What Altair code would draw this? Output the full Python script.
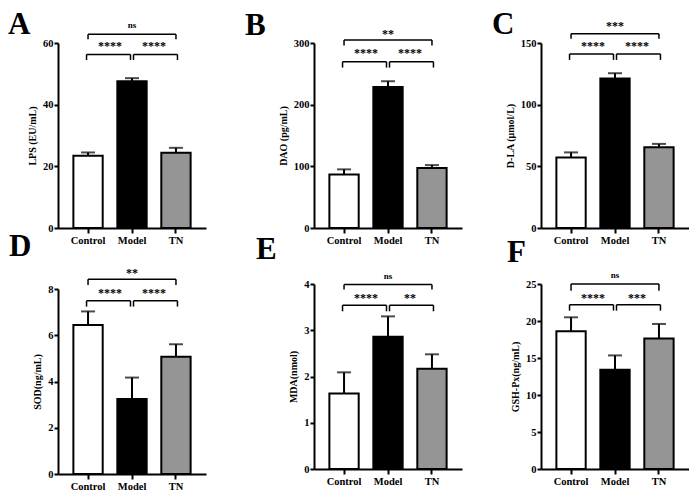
import altair as alt
import pandas as pd

GROUPS = ["Control", "Model", "TN"]
FILLS = ["white", "black", "#959595"]
FONT = "Liberation Serif"

# bar heights and one-sided error
LPS_MEAN = [23.4, 47.6, 24.4]
LPS_ERR = [1.1, 1.0, 1.6]
DAO_MEAN = [86.7, 228.6, 97.2]
DAO_ERR = [8.4, 9.4, 4.8]
DLA_MEAN = [57.1, 121.3, 65.5]
DLA_ERR = [4.2, 4.2, 2.7]
SOD_MEAN = [6.44, 3.24, 5.07]
SOD_ERR = [0.59, 0.93, 0.54]
MDA_MEAN = [1.63, 2.86, 2.17]
MDA_ERR = [0.46, 0.44, 0.31]
GSH_MEAN = [18.6, 13.4, 17.65]
GSH_ERR = [1.9, 1.95, 1.95]

# significance: Control-Model, Model-TN, Control-TN
SIG_A = ["****", "****", "ns"]
SIG_B = ["****", "****", "**"]
SIG_C = ["****", "****", "***"]
SIG_D = ["****", "****", "**"]
SIG_E = ["****", "**", "ns"]
SIG_F = ["****", "***", "ns"]

# bracket levels in data units: low line, low tick end, high line, high tick end, star y, top text y
LEV_A = [56.3, 54.5, 62.8, 61.25, 59.2, 66.0]
LEV_B = [269.6, 260.1, 304.8, 295.8, 285.3, 317.9]
LEV_C = [141.1, 136.3, 157.4, 153.4, 148.2, 165.3]
LEV_D = [7.49, 7.24, 8.42, 8.17, 7.86, 8.76]
LEV_E = [3.54, 3.41, 3.99, 3.88, 3.71, 4.17]
LEV_F = [22.2, 21.4, 25.0, 24.1, 23.3, 26.2]

TICKS_A = [0, 20, 40, 60]
TICKS_B = [0, 100, 200, 300]
TICKS_C = [0, 50, 100, 150]
TICKS_D = [0, 2, 4, 6, 8]
TICKS_E = [0, 1, 2, 3, 4]
TICKS_F = [0, 5, 10, 15, 20, 25]

W = 148
H = 185
P_IN = 1 / 3
P_OUT = 0.35
# stars sit halfway between two bar centres: a quarter bandwidth past the band end
STEP = W / (3 - P_IN + 2 * P_OUT)
STAR_DX = 0.25 * STEP * (1 - P_IN)


def panel(letter, means, errs, sig, lev, ticks, ytitle, ldx, ldy):
    df = pd.DataFrame({
        "group": GROUPS,
        "mean": means,
        "upper": [m + e for m, e in zip(means, errs)],
    })
    xscale = alt.Scale(domain=GROUPS, paddingInner=P_IN, paddingOuter=P_OUT)
    xaxis = alt.Axis(title=None, labelAngle=0, tickSize=5, labelPadding=2)
    yscale = alt.Scale(domain=[0, ticks[-1]], nice=False)
    # same axis spec on every layer so the merged axis keeps all tick values
    yaxis = alt.Axis(title=ytitle, values=ticks, tickSize=4, labelPadding=1,
                     titlePadding=5, labelOverlap=False)

    def X(field, **kw):
        return alt.X(field, scale=xscale, sort=GROUPS, axis=xaxis, **kw)

    def Y(field):
        return alt.Y(field, scale=yscale, axis=yaxis)

    bars = alt.Chart(df).mark_bar(stroke="black", strokeWidth=2).encode(
        x=X("group:N"), y=Y("mean:Q"),
        fill=alt.Fill("group:N", scale=alt.Scale(domain=GROUPS, range=FILLS), legend=None),
    )
    err = alt.Chart(df).mark_rule(strokeWidth=2, color="black").encode(
        x=X("group:N"), y=Y("mean:Q"), y2="upper:Q")
    cap = alt.Chart(df).mark_tick(size=14, thickness=2, color="black").encode(
        x=X("group:N"), y=Y("upper:Q"))

    lo, lo_t, hi, hi_t, star_y, top_y = lev
    left = pd.DataFrame({
        "a": ["Control", "Control", "Model"],
        "b": ["Model", "Control", "Model"],
        "y": [lo, lo_t, lo_t],
        "y2": [lo, lo, lo],
    })
    right = pd.DataFrame({
        "a": ["Model", "Model", "TN"],
        "b": ["TN", "Model", "TN"],
        "y": [lo, lo_t, lo_t],
        "y2": [lo, lo, lo],
    })
    top = pd.DataFrame({
        "a": ["Control", "Control", "TN"],
        "b": ["TN", "Control", "TN"],
        "y": [hi, hi_t, hi_t],
        "y2": [hi, hi, hi],
    })

    def bracket(d, off):
        return alt.Chart(d).mark_rule(
            strokeWidth=1.5, color="black", xOffset=off, x2Offset=off
        ).encode(
            x=X("a:N"), x2="b:N", y=Y("y:Q"), y2="y2:Q",
        )

    stars = pd.DataFrame({"a": ["Control", "Model"], "t": sig[:2], "y": [star_y, star_y]})
    toptext = pd.DataFrame({"a": ["Model"], "t": [sig[2]], "y": [top_y]})

    star_txt = alt.Chart(stars).mark_text(
        font=FONT, fontWeight="bold", fontSize=12, baseline="middle", color="black",
        dx=STAR_DX, dy=1,
    ).encode(
        x=X("a:N", bandPosition=1), y=Y("y:Q"), text="t:N",
    )
    top_size = 9 if sig[2] == "ns" else 12
    top_txt = alt.Chart(toptext).mark_text(
        font=FONT, fontWeight="bold", fontSize=top_size, baseline="middle", color="black",
        dy=0 if sig[2] == "ns" else 2,
    ).encode(
        x=X("a:N"), y=Y("y:Q"), text="t:N",
    )

    return alt.layer(
        bars, err, cap, bracket(left, -1.5), bracket(right, 1.5), bracket(top, 0),
        star_txt, top_txt,
    ).properties(
        width=W, height=H,
        title=alt.TitleParams(letter, anchor="start", frame="group", font=FONT,
                              fontWeight="bold", fontSize=31, color="black",
                              baseline="top", offset=0, dx=ldx, dy=ldy),
    )


a = panel("A", LPS_MEAN, LPS_ERR, SIG_A, LEV_A, TICKS_A, "LPS (EU/mL)", -50, 20)
b = panel("B", DAO_MEAN, DAO_ERR, SIG_B, LEV_B, TICKS_B, "DAO (pg/mL)", -69, 14)
c = panel("C", DLA_MEAN, DLA_ERR, SIG_C, LEV_C, TICKS_C, "D-LA (μmol/L)", -49, 21)
d = panel("D", SOD_MEAN, SOD_ERR, SIG_D, LEV_D, TICKS_D, "SOD(ng/mL)", -49, -4)
e = panel("E", MDA_MEAN, MDA_ERR, SIG_E, LEV_E, TICKS_E, "MDA(nmol)", -58, -6)
f = panel("F", GSH_MEAN, GSH_ERR, SIG_F, LEV_F, TICKS_F, "GSH-Px(ng/mL)", -34, -2)

col1 = alt.vconcat(a, d, spacing=61, bounds="flush")
col2 = alt.vconcat(b, e, spacing=56, bounds="flush")
col3 = alt.vconcat(c, f, spacing=56, bounds="flush")

chart = alt.hconcat(
    alt.hconcat(col1, col2, spacing=39), col3, spacing=30
).properties(
    padding=0
).configure_view(
    stroke=None
).configure_axis(
    grid=False,
    domainColor="black", domainWidth=2,
    tickColor="black", tickWidth=2,
    labelFont=FONT, labelFontWeight="bold", labelFontSize=10.5, labelColor="black",
    titleFont=FONT, titleFontWeight="bold", titleFontSize=10, titleColor="black",
)

chart.save("out.html", embed_options={"renderer": "svg", "actions": False})
